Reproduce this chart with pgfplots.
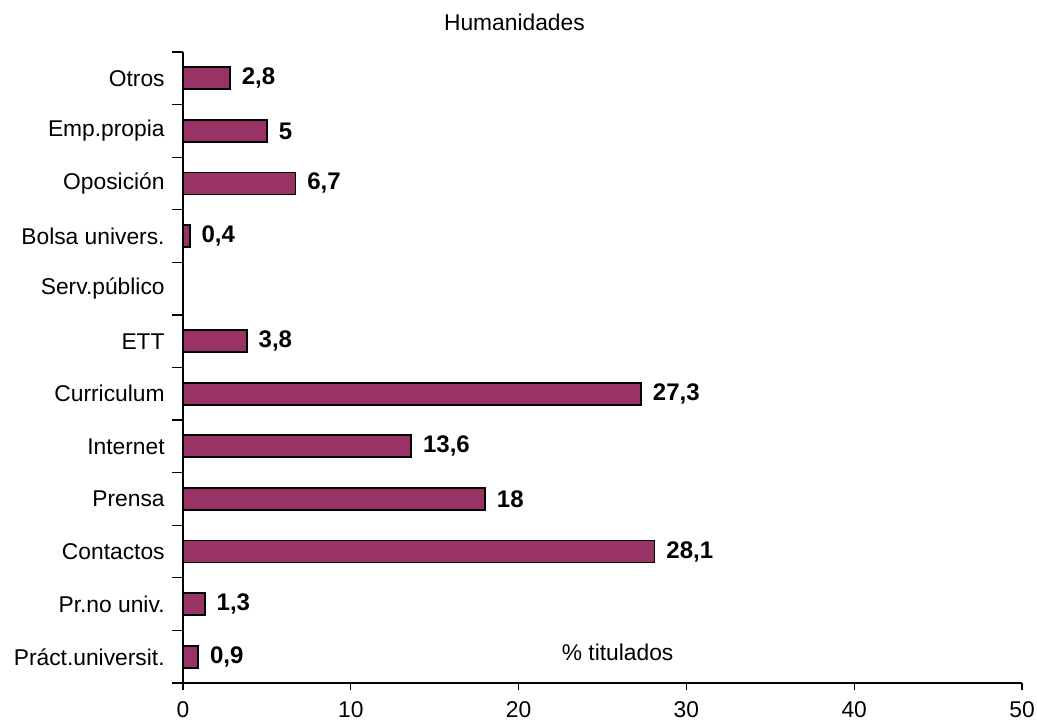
\documentclass[border=0pt]{standalone}
\usepackage{pgfplots}
\pgfplotsset{compat=1.18}
\usepackage{fontspec}
\setmainfont{Liberation Sans}
\definecolor{barc}{RGB}{153,51,102}
\begin{document}
\begin{tikzpicture}
\useasboundingbox (-91.5pt,-18.5pt) rectangle (427pt,341.5pt);
\begin{axis}[
  at={(0,0)}, anchor=south west,
  scale only axis,
  width=419.5pt, height=315.5pt,
  xbar, bar width=11pt,
  xmin=0, xmax=50,
  ymin=-0.5, ymax=11.5,
  axis x line*=bottom, axis y line*=left,
  axis line style={black, line width=0.6pt},
  xtick={0,10,...,50},
  ytick={0,...,11},
  yticklabels={Práct.universit.,Pr.no univ.,Contactos,Prensa,Internet,Curriculum,ETT,Serv.público,Bolsa univers.,Oposición,Emp.propia,Otros},
  minor ytick={-0.5,0.5,...,11.5},
  every major y tick/.style={draw=none},
  every minor tick/.style={black, line width=0.6pt},
  minor tick length=5.5pt,
  major tick length=3.5pt,
  tick align=outside,
  every tick/.style={black, line width=0.6pt},
  /pgf/number format/assume math mode=true,
  tick label style={font=\fontsize{11.4pt}{13pt}\selectfont, black},
  yticklabel style={inner sep=0pt, anchor=east, xshift=-5.5pt},
  xticklabel style={inner sep=0pt, anchor=north, yshift=-5.8pt},
  title={Humanidades},
  title style={font=\fontsize{11.4pt}{13pt}\selectfont, at={(axis description cs:0.395,1)}, anchor=center, yshift=9pt},
  nodes near coords,
  point meta=explicit symbolic,
  every node near coord/.append style={font=\fontsize{12pt}{14pt}\selectfont\bfseries, black, anchor=west, inner sep=0pt, xshift=5.5pt},
  clip=false,
]
\addplot[fill=barc, draw=black, line width=0.9pt] table[meta=lab] {
x y lab
0.9 0 0,9
1.3 1 1,3
28.1 2 28,1
18 3 18
13.6 4 13,6
27.3 5 27,3
3.8 6 3,8
0.4 8 0,4
6.7 9 6,7
5 10 5
2.8 11 2,8
};
\node[font=\fontsize{11.4pt}{13pt}\selectfont, anchor=center, yshift=2pt] at (axis cs:25.9,0) {\% titulados};
\end{axis}
\end{tikzpicture}
\end{document}
